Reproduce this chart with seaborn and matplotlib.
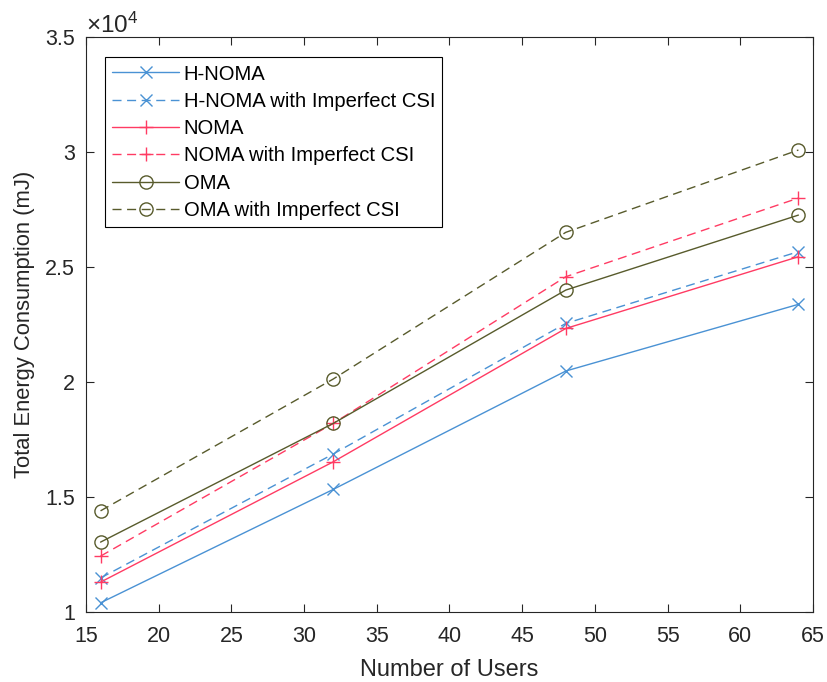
import numpy as np
import pandas as pd
import matplotlib
matplotlib.use("Agg")
import matplotlib.pyplot as plt
import seaborn as sns
from matplotlib.ticker import FuncFormatter, MultipleLocator

# ---- data ----
users = [16, 32, 48, 64]
h_noma = [10400, 15330, 20480, 23380]
h_noma_imp = [11480, 16870, 22550, 25670]
noma = [11300, 16530, 22330, 25450]
noma_imp = [12430, 18200, 24580, 28000]
oma = [13040, 18200, 24000, 27260]
oma_imp = [14400, 20130, 26510, 30090]

labels = ["H-NOMA", "H-NOMA with Imperfect CSI", "NOMA",
          "NOMA with Imperfect CSI", "OMA", "OMA with Imperfect CSI"]
series = [h_noma, h_noma_imp, noma, noma_imp, oma, oma_imp]

sns.set_theme(style="white")
plt.rcParams["font.family"] = ["Liberation Sans", "DejaVu Sans"]
plt.rcParams["mathtext.fontset"] = "custom"
plt.rcParams["mathtext.rm"] = "Liberation Sans"
plt.rcParams["mathtext.it"] = "Liberation Sans:italic"

c_blue = "#4A92D4"
c_red = "#FF3B63"
c_olive = "#585B2C"
colors = [c_blue, c_blue, c_red, c_red, c_olive, c_olive]
markers = ["x", "x", "+", "+", "o", "o"]
msizes = [8.5, 8.5, 10, 10, 9.5, 9.5]
dashed = [False, True, False, True, False, True]

fig = plt.figure(figsize=(8.27, 6.82), dpi=100)
ax = fig.add_axes([0.104, 0.1026, 0.879, 0.843])

for lab, vals, col, mk, ms, d in zip(labels, series, colors, markers, msizes, dashed):
    df = pd.DataFrame({"users": users, "energy": vals})
    sns.lineplot(data=df, x="users", y="energy", ax=ax, color=col,
                 marker=mk, markersize=ms, markeredgewidth=1.0,
                 markerfacecolor="none", markeredgecolor=col,
                 linewidth=1.0, label=lab)
    line = ax.lines[-1]
    if d:
        line.set_linestyle((0, (6.5, 4)))
    else:
        line.set_linestyle("-")

ax.set_xlim(15, 65)
ax.set_ylim(10000, 35000)
ax.xaxis.set_major_locator(MultipleLocator(5))
ax.yaxis.set_major_locator(MultipleLocator(5000))
ax.yaxis.set_major_formatter(FuncFormatter(lambda v, p: "%g" % (v / 1e4)))

tc = "#262626"
for s in ax.spines.values():
    s.set_color(tc)
    s.set_linewidth(0.8)
    s.set_visible(True)
ax.tick_params(which="both", direction="in", top=True, right=True,
               length=5.5, width=0.8, color=tc, labelcolor=tc, labelsize=15.5,
               left=True, bottom=True)
ax.tick_params(axis="x", pad=10)
ax.tick_params(axis="y", pad=8)

ax.set_xlabel("Number of Users", fontsize=17, color=tc, labelpad=9)
ax.set_ylabel("Total Energy Consumption (mJ)", fontsize=15.8, color=tc, labelpad=7)
ax.text(0.0, 0.998, r"$\times10^{4}$", transform=ax.transAxes, ha="left",
        va="bottom", fontsize=17.5, color=tc)

leg = ax.legend(loc="upper left", bbox_to_anchor=(0.0261, 0.965),
                borderaxespad=0, fontsize=14.6, handlelength=3.3,
                labelspacing=0.41, frameon=True,
                fancybox=False, framealpha=1, edgecolor="black",
                handletextpad=0.22, borderpad=0.36)
leg.get_frame().set_linewidth(0.8)
for t in leg.get_texts():
    t.set_color("black")

fig.savefig("out.png", dpi=100)
